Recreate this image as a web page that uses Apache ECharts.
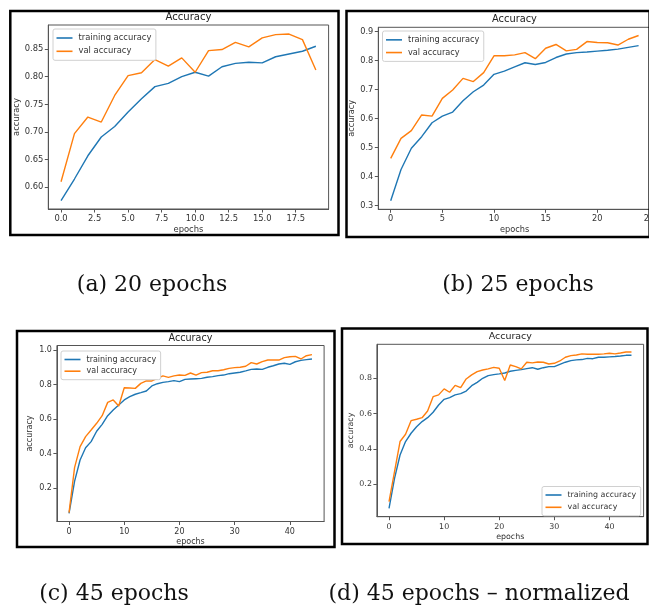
<!DOCTYPE html>
<html><head><meta charset="utf-8">
<script src="https://cdn.jsdelivr.net/npm/echarts@6/dist/echarts.min.js"></script>
<style>html,body{margin:0;padding:0;background:#fff}#c{width:649px;height:608px}</style>
</head><body><div id="c"></div>
<script>
// ---- data ----
const seriesNames = ['training accuracy', 'val accuracy'];
const trainA = [0.576,0.615,0.657,0.691,0.710,0.736,0.760,0.782,0.788,0.800,0.808,0.801,0.818,0.824,0.826,0.825,0.836,0.841,0.846,0.855];
const valA   = [0.610,0.697,0.727,0.718,0.766,0.802,0.807,0.831,0.819,0.834,0.808,0.847,0.849,0.862,0.854,0.870,0.876,0.877,0.867,0.812];
const trainB = [0.317,0.425,0.498,0.538,0.586,0.609,0.623,0.662,0.693,0.716,0.753,0.764,0.779,0.793,0.787,0.794,0.811,0.823,0.828,0.830,0.833,0.836,0.840,0.846,0.852];
const valB   = [0.463,0.532,0.559,0.613,0.609,0.670,0.699,0.739,0.728,0.759,0.817,0.817,0.820,0.828,0.807,0.843,0.856,0.834,0.839,0.866,0.863,0.862,0.854,0.874,0.887];
const trainC = [0.055,0.240,0.364,0.435,0.470,0.530,0.570,0.620,0.653,0.682,0.711,0.730,0.744,0.753,0.763,0.792,0.805,0.813,0.817,0.823,0.817,0.830,0.832,0.834,0.836,0.842,0.846,0.852,0.855,0.863,0.867,0.871,0.879,0.888,0.890,0.888,0.900,0.909,0.919,0.923,0.917,0.932,0.940,0.944,0.948];
const valC   = [0.059,0.320,0.441,0.499,0.537,0.576,0.620,0.697,0.711,0.676,0.782,0.780,0.778,0.807,0.821,0.821,0.836,0.850,0.842,0.850,0.855,0.853,0.867,0.855,0.869,0.871,0.880,0.880,0.886,0.894,0.898,0.900,0.906,0.927,0.919,0.933,0.942,0.942,0.942,0.956,0.961,0.963,0.948,0.967,0.973];
const trainD = [0.064,0.234,0.366,0.442,0.489,0.526,0.555,0.577,0.608,0.649,0.681,0.691,0.706,0.713,0.728,0.758,0.777,0.800,0.815,0.821,0.825,0.830,0.840,0.845,0.849,0.855,0.860,0.851,0.860,0.866,0.866,0.879,0.891,0.900,0.904,0.906,0.913,0.911,0.919,0.919,0.921,0.923,0.926,0.930,0.930];
const valD   = [0.102,0.272,0.442,0.483,0.560,0.568,0.577,0.615,0.696,0.706,0.740,0.721,0.760,0.747,0.796,0.819,0.838,0.847,0.853,0.862,0.857,0.787,0.875,0.866,0.853,0.891,0.887,0.892,0.891,0.881,0.885,0.898,0.919,0.928,0.932,0.938,0.936,0.936,0.936,0.938,0.942,0.938,0.943,0.949,0.949];

const xTicksA = [0, 2.5, 5, 7.5, 10, 12.5, 15, 17.5];
const yTicksA = [0.60, 0.65, 0.70, 0.75, 0.80, 0.85];
const xTicksB = [0, 5, 10, 15, 20, 25];
const yTicksB = [0.3, 0.4, 0.5, 0.6, 0.7, 0.8, 0.9];
const xTicksC = [0, 10, 20, 30, 40];
const yTicksC = [0.2, 0.4, 0.6, 0.8, 1.0];
const xTicksD = [0, 10, 20, 30, 40];
const yTicksD = [0.2, 0.4, 0.6, 0.8];
const titleText = 'Accuracy';
const xName = 'epochs';
const yName = 'accuracy';
const captions = ['(a) 20 epochs', '(b) 25 epochs', '(c) 45 epochs', '(d) 45 epochs \u2013 normalized'];

// ---- layout / style ----
const BLUE = '#1f77b4', ORANGE = '#ff7f0e';
const FONT = 'DejaVu Sans';
const AX = '#555', TXT = '#333';

const panels = [
  {train: trainA, val: valA, xt: xTicksA, yt: yTicksA, xd: 1, yd: 2,
   grid: {left: 48.3, top: 25, width: 280.3, height: 184},
   xr: [-0.95, 19.95], yr: [0.5608, 0.8934], fs: 8.4, xg: 17, yg: 25,
   legend: {left: 53, top: 29}, lh: 11, lgap: 2.3,
   title: [188.5, 17.5], border: [10.3, 11, 338.5, 235]},
  {train: trainB, val: valB, xt: xTicksB, yt: yTicksB, xd: 0, yd: 1,
   grid: {left: 378.3, top: 27.3, width: 272.7, height: 182},
   xr: [-1.2, 25.2], yr: [0.2876, 0.9152], fs: 8.2, xg: 17, yg: 22.5,
   legend: {left: 382.5, top: 31}, lh: 10.7, lgap: 2,
   title: [514.5, 19.8], border: [346.5, 11, 649.6, 237]},
  {train: trainC, val: valC, xt: xTicksC, yt: yTicksC, xd: 0, yd: 1,
   grid: {left: 56.9, top: 345.5, width: 267.2, height: 176},
   xr: [-2.2, 46.2], yr: [0.008, 1.026], fs: 8.0, xg: 16.5, yg: 22.5,
   legend: {left: 61, top: 351}, lh: 10, lgap: 1.7,
   title: [190.5, 338.3], border: [17, 331, 334.5, 547]},
  {train: trainD, val: valD, xt: xTicksD, yt: yTicksD, xd: 0, yd: 1,
   grid: {left: 376.9, top: 344.3, width: 266.7, height: 172.4},
   xr: [-2.2, 46.2], yr: [0.0166, 0.9924], fs: 7.9, xg: 16, yg: 21,
   legend: {left: 542, top: 486.5}, lh: 10, lgap: 2.3,
   title: [510.3, 336.8], border: [342, 328.5, 647.5, 544]}
];

const grids = [], xAxes = [], yAxes = [], series = [], legends = [], graphics = [];

panels.forEach((p, i) => {
  grids.push(Object.assign({show: true, borderColor: AX, borderWidth: 1, backgroundColor: '#fff',
    containLabel: false, outerBoundsMode: 'none'}, p.grid));
  const axCommon = (ticks, dec) => ({
    axisLine: {show: true, onZero: false, lineStyle: {color: AX, width: 1}},
    axisTick: {show: true, customValues: ticks, length: 3.5, lineStyle: {color: AX, width: 1}},
    axisLabel: {customValues: ticks, formatter: v => Number(v).toFixed(dec), fontSize: p.fs, color: TXT, fontFamily: FONT, margin: 5},
    splitLine: {show: false}
  });
  xAxes.push(Object.assign({gridIndex: i, type: 'value', min: p.xr[0], max: p.xr[1],
    name: xName, nameLocation: 'middle', nameGap: p.xg,
    nameTextStyle: {fontSize: p.fs, color: TXT, fontFamily: FONT}}, axCommon(p.xt, p.xd)));
  yAxes.push(Object.assign({gridIndex: i, type: 'value', min: p.yr[0], max: p.yr[1],
    name: yName, nameLocation: 'middle', nameGap: p.yg,
    nameTextStyle: {fontSize: p.fs, color: TXT, fontFamily: FONT}}, axCommon(p.yt, p.yd)));
  xAxes[i].axisLabel.margin = 6;
  [p.train, p.val].forEach((arr, k) => {
    series.push({
      type: 'line', name: seriesNames[k], xAxisIndex: i, yAxisIndex: i,
      data: arr.map((v, e) => [e, v]), symbol: 'none', silent: true,
      lineStyle: {color: k ? ORANGE : BLUE, width: 1.4},
      itemStyle: {color: k ? ORANGE : BLUE}, animation: false, z: 3 + k
    });
  });
  legends.push({
    orient: 'vertical', left: p.legend.left, top: p.legend.top,
    data: seriesNames, icon: 'rect', itemWidth: 16, itemHeight: 1.6, itemGap: p.lgap,
    padding: [3.5, 4.5, 3.5, 3.5], backgroundColor: '#fff', borderColor: '#d0d0d0', borderWidth: 1, borderRadius: 2,
    textStyle: {fontSize: p.fs, color: TXT, fontFamily: FONT, lineHeight: p.lh, padding: [0, 0, 0, 1]},
    selectedMode: false, z: 10
  });
  graphics.push({type: 'text', x: p.title[0], y: p.title[1], z: 20,
    style: {text: titleText, font: (p.fs * 1.2).toFixed(2) + 'px "DejaVu Sans"', fill: '#222', align: 'center', verticalAlign: 'middle'}});
  const b = p.border;
  graphics.push({type: 'rect', z: 20, shape: {x: b[0], y: b[1], width: b[2] - b[0], height: b[3] - b[1]},
    style: {fill: 'none', stroke: '#000', lineWidth: 2.5}});
});

const capPos = [[152, 285], [518, 285], [114, 594], [479, 594]];
captions.forEach((t, i) => {
  graphics.push({type: 'text', x: capPos[i][0], y: capPos[i][1], z: 20,
    style: {text: t, font: '22px "DejaVu Serif"', fill: '#111', align: 'center', verticalAlign: 'middle'}});
});

const chart = echarts.init(document.getElementById('c'), null, {renderer: 'canvas'});
chart.setOption({
  animation: false, backgroundColor: '#fff',
  grid: grids, xAxis: xAxes, yAxis: yAxes, series: series, legend: legends,
  graphic: graphics
});
</script></body></html>
